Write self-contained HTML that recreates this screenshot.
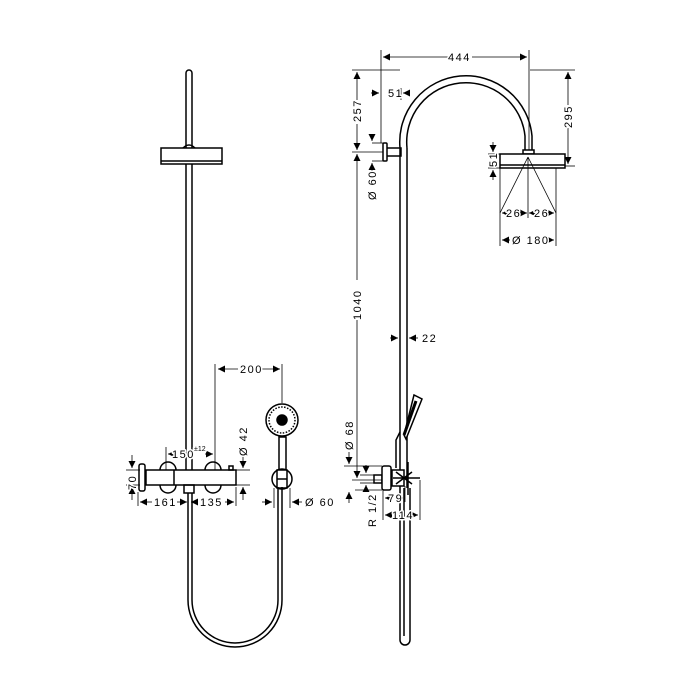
<!DOCTYPE html>
<html><head><style>
html,body{margin:0;padding:0;background:#fff}
svg{display:block}
text{font-family:"Liberation Sans",sans-serif;font-size:11px;fill:#000;letter-spacing:1.5px;stroke:#fff;stroke-width:3px;paint-order:stroke;stroke-linejoin:round}
</style></head><body>
<svg width="700" height="700" viewBox="0 0 700 700" xmlns="http://www.w3.org/2000/svg">
<defs>
<marker id="a" viewBox="0 0 10 10" refX="10" refY="5" markerWidth="8" markerHeight="7" orient="auto-start-reverse" markerUnits="userSpaceOnUse"><path d="M0,0L10,5L0,10z" fill="#000"/></marker>
</defs>
<g fill="none" stroke="#000" stroke-width="1.5">
<path d="M186,470V73a3,3 0 0 1 6,0V470"/>
<path d="M183,148q6,-6 12,0"/>
<rect x="161" y="148" width="61" height="16" fill="#fff"/>
<line x1="161" y1="161" x2="222" y2="161"/>
<path d="M160,470a8,8 0 0 1 16,0M205,470a8,8 0 0 1 16,0"/>
<path d="M160,485a8,8 0 0 0 16,0M205,485a8,8 0 0 0 16,0"/>
<rect x="146" y="470" width="90" height="15" fill="#fff"/>
<line x1="174" y1="470" x2="174" y2="485"/>
<rect x="139" y="464" width="6" height="27" rx="2" fill="#fff"/>
<rect x="229" y="466" width="4" height="4"/>
<rect x="184" y="485" width="10" height="8"/>
<path d="M188,493V600a47,47 0 0 0 94,0V487"/>
<path d="M192,493V600a43,43 0 0 0 86,0V487"/>
<circle cx="282" cy="479" r="10"/>
<rect x="277" y="470" width="10" height="18"/>
<line x1="277" y1="479" x2="287" y2="479"/>
<path d="M279,470V437h7V470"/>
<circle cx="282" cy="420" r="16"/>
<circle cx="282" cy="420" r="13" stroke-dasharray="1.5 1.5"/>
<circle cx="282" cy="420" r="5" fill="#000"/>
<path d="M400,148V640a5,5 0 0 0 10,0V488"/>
<path d="M407,148V488"/>
<path d="M404,488V636"/>
<path d="M400,148A66,66 0 0 1 532,136V150"/>
<path d="M407,148A59,59 0 0 1 525,136V150"/>
<rect x="523" y="150" width="11" height="4"/>
<rect x="500" y="154" width="65" height="14" fill="#fff"/>
<line x1="500" y1="165" x2="565" y2="165"/>
<path d="M386,148h15v8h-15"/>
<rect x="383" y="143" width="4" height="18" rx="1" fill="#fff"/>
<g stroke-width="0.8"><path d="M528,157L500,213M528,157L556,213M528,157V218"/></g>
<rect x="374" y="475" width="8" height="8"/>
<rect x="382" y="466" width="9" height="24" rx="2" fill="#fff"/>
<rect x="392" y="470" width="12" height="16" fill="#fff"/>
<path d="M393,478h27M408,462v33M396,472l16,12M412,472l-16,12"/>
<path d="M396,468V440l4,-8"/>
<path d="M404,435l10,-40l8,4l-16,40z" fill="#fff"/>
<path d="M404,435l12,-34" stroke-width="3"/>
</g>
<g fill="none" stroke="#000" stroke-width="0.8">
<line x1="215" y1="364" x2="215" y2="470"/><line x1="282" y1="364" x2="282" y2="403"/>
<line x1="218" y1="369" x2="238" y2="369" marker-start="url(#a)"/><line x1="262" y1="369" x2="280" y2="369" marker-end="url(#a)"/>
<line x1="166" y1="447" x2="166" y2="470"/>
<line x1="168" y1="454" x2="171" y2="454" marker-start="url(#a)"/><line x1="205" y1="454" x2="213" y2="454" marker-end="url(#a)"/>
<line x1="138" y1="492" x2="138" y2="506"/><line x1="236" y1="487" x2="236" y2="506"/>
<line x1="140" y1="502" x2="152" y2="502" marker-start="url(#a)"/><line x1="177" y1="502" x2="187" y2="502" marker-end="url(#a)"/>
<line x1="191" y1="502" x2="198" y2="502" marker-start="url(#a)"/><line x1="225" y1="502" x2="234" y2="502" marker-end="url(#a)"/>
<line x1="126" y1="470" x2="140" y2="470"/><line x1="126" y1="485" x2="140" y2="485"/>
<line x1="132" y1="455" x2="132" y2="468" marker-end="url(#a)"/><line x1="132" y1="500" x2="132" y2="487" marker-end="url(#a)"/>
<line x1="236" y1="470" x2="250" y2="470"/><line x1="236" y1="485" x2="250" y2="485"/>
<line x1="243" y1="455" x2="243" y2="468" marker-end="url(#a)"/><line x1="243" y1="500" x2="243" y2="487" marker-end="url(#a)"/>
<line x1="274" y1="488" x2="274" y2="508"/><line x1="290" y1="488" x2="290" y2="508"/>
<line x1="262" y1="502" x2="272" y2="502" marker-end="url(#a)"/><line x1="302" y1="502" x2="292" y2="502" marker-end="url(#a)"/>
<line x1="381" y1="50" x2="381" y2="143"/><line x1="529" y1="50" x2="529" y2="150"/>
<line x1="383" y1="57" x2="448" y2="57" marker-start="url(#a)"/><line x1="472" y1="57" x2="527" y2="57" marker-end="url(#a)"/>
<line x1="352" y1="70" x2="400" y2="70"/><line x1="530" y1="70" x2="575" y2="70"/>
<line x1="352" y1="152" x2="383" y2="152"/>
<line x1="357" y1="72" x2="357" y2="100" marker-start="url(#a)"/><line x1="357" y1="124" x2="357" y2="150" marker-end="url(#a)"/>
<line x1="357" y1="154" x2="357" y2="280" marker-start="url(#a)"/><line x1="357" y1="320" x2="357" y2="478" marker-end="url(#a)"/>
<line x1="352" y1="480" x2="382" y2="480"/>
<line x1="568" y1="72" x2="568" y2="105" marker-start="url(#a)"/><line x1="568" y1="128" x2="568" y2="164" marker-end="url(#a)"/>
<line x1="565" y1="166" x2="575" y2="166"/>
<line x1="371" y1="93" x2="379" y2="93" marker-end="url(#a)"/><line x1="410" y1="93" x2="403" y2="93" marker-end="url(#a)"/>
<line x1="401" y1="88" x2="401" y2="100"/>
<line x1="488" y1="154" x2="500" y2="154"/><line x1="488" y1="168" x2="500" y2="168"/>
<line x1="493" y1="142" x2="493" y2="152" marker-end="url(#a)"/><line x1="493" y1="180" x2="493" y2="170" marker-end="url(#a)"/>
<line x1="372" y1="143" x2="385" y2="143"/><line x1="372" y1="161" x2="385" y2="161"/>
<line x1="372" y1="134" x2="372" y2="141" marker-end="url(#a)"/><line x1="372" y1="172" x2="372" y2="163" marker-end="url(#a)"/>
<line x1="500" y1="168" x2="500" y2="246"/><line x1="556" y1="168" x2="556" y2="246"/>
<line x1="502" y1="240" x2="510" y2="240" marker-start="url(#a)"/><line x1="548" y1="240" x2="554" y2="240" marker-end="url(#a)"/>
<line x1="502" y1="213" x2="505" y2="213" marker-start="url(#a)"/><line x1="520" y1="213" x2="527" y2="213" marker-end="url(#a)"/>
<line x1="529" y1="213" x2="535" y2="213" marker-start="url(#a)"/><line x1="550" y1="213" x2="554" y2="213" marker-end="url(#a)"/>
<line x1="390" y1="338" x2="398" y2="338" marker-end="url(#a)"/><line x1="418" y1="338" x2="409" y2="338" marker-end="url(#a)"/>
<line x1="344" y1="466" x2="382" y2="466"/><line x1="355" y1="490" x2="382" y2="490"/>
<line x1="349" y1="452" x2="349" y2="464" marker-end="url(#a)"/><line x1="349" y1="503" x2="349" y2="492" marker-end="url(#a)"/>
<line x1="360" y1="475" x2="374" y2="475"/><line x1="360" y1="483" x2="374" y2="483"/>
<line x1="366" y1="465" x2="366" y2="473" marker-end="url(#a)"/><line x1="366" y1="490" x2="366" y2="485" marker-end="url(#a)"/>
<line x1="383" y1="490" x2="383" y2="520"/><line x1="405" y1="486" x2="405" y2="502"/><line x1="420" y1="480" x2="420" y2="520"/>
<line x1="385" y1="498" x2="388" y2="498" marker-start="url(#a)"/><line x1="401" y1="498" x2="403" y2="498" marker-end="url(#a)"/>
<line x1="385" y1="515" x2="390" y2="515" marker-start="url(#a)"/><line x1="413" y1="515" x2="418" y2="515" marker-end="url(#a)"/>
</g>
<text x="240" y="373">200</text>
<text x="172" y="458">150</text><text x="194" y="451" style="font-size:7px;letter-spacing:0">±12</text>
<text x="154" y="506">161</text>
<text x="200" y="506">135</text>
<text x="305" y="506">Ø 60</text>
<text transform="translate(136,490) rotate(-90)">70</text>
<text transform="translate(247,456) rotate(-90)">Ø 42</text>
<text x="448" y="61">444</text>
<text x="388" y="97">51</text>
<text transform="translate(361,122) rotate(-90)">257</text>
<text transform="translate(361,320) rotate(-90)">1040</text>
<text transform="translate(572,128) rotate(-90)">295</text>
<text transform="translate(497,167) rotate(-90)">51</text>
<text transform="translate(376,200) rotate(-90)">Ø 60</text>
<text x="506" y="217">26</text>
<text x="534" y="217">26</text>
<text x="512" y="244">Ø 180</text>
<text x="422" y="342">22</text>
<text transform="translate(353,450) rotate(-90)">Ø 68</text>
<text transform="translate(376,527) rotate(-90)">R 1/2</text>
<text x="388" y="502">79</text>
<text x="392" y="519">114</text>
</svg>
</body></html>
